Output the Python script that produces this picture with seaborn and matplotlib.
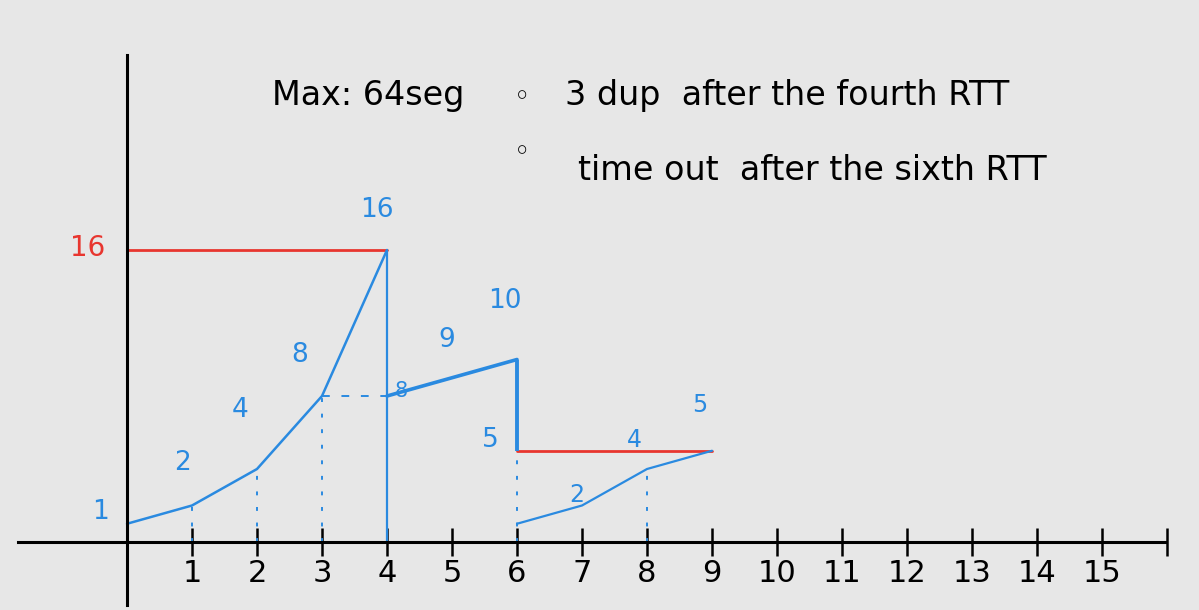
import numpy as np
import pandas as pd
import seaborn as sns
import matplotlib.pyplot as plt

# TCP congestion window per RTT
rtt_slow_start = [0, 1, 2, 3, 4]
cwnd_slow_start = [1, 2, 4, 8, 16]

rtt_avoid = [4, 5, 6]
cwnd_avoid = [8, 9, 10]

rtt_restart = [6, 7, 8, 9]
cwnd_restart = [1, 2, 4, 5]

ssthresh_x1 = [0, 4]
ssthresh_y1 = [16, 16]
ssthresh_x2 = [6, 9]
ssthresh_y2 = [5, 5]

# drops: 3 dup ack at RTT 4, timeout at RTT 6
drop_x = [4, 6]
drop_low = [0, 5]
drop_high = [16, 10]

guide_x = [1, 2, 3, 6, 8]
guide_top = [2, 4, 8, 5, 4]

rtt_ticks = list(range(1, 17))
rtt_labels = [str(i) for i in range(1, 16)] + [""]

BLUE = "#2a8ae0"
RED = "#e8362f"
BG = "#e7e7e7"

sns.set_style("white", rc={"axes.facecolor": BG, "figure.facecolor": BG,
                           "text.color": "black", "xtick.color": "black"})
plt.rcParams['font.family'] = ['DejaVu Sans']

fig = plt.figure(figsize=(11.99, 6.10), dpi=100)
ax = fig.add_axes([0, 0, 1, 1])

# pixel mapping: x=0 at 127px, 65 px per RTT; y=0 at 542px, 18.25 px per segment
ax.set_xlim(-127 / 65, 1072 / 65)
ax.set_ylim(-(610 - 542) / 18.25, 542 / 18.25)

# ssthresh lines
sns.lineplot(x=ssthresh_x1, y=ssthresh_y1, color=RED, linewidth=2.0, ax=ax)
sns.lineplot(x=ssthresh_x2, y=ssthresh_y2, color=RED, linewidth=2.0, ax=ax)

# cwnd curves
sns.lineplot(x=rtt_slow_start, y=cwnd_slow_start, color=BLUE, linewidth=1.8,
             estimator=None, sort=False, ax=ax)
sns.lineplot(x=rtt_avoid, y=cwnd_avoid, color=BLUE, linewidth=2.6,
             estimator=None, sort=False, ax=ax)
sns.lineplot(x=rtt_restart, y=cwnd_restart, color=BLUE, linewidth=1.6,
             estimator=None, sort=False, ax=ax)

ax.vlines(drop_x[0], drop_low[0], drop_high[0], color=BLUE, linewidth=1.6)
ax.vlines(drop_x[1], drop_low[1], drop_high[1], color=BLUE, linewidth=2.8)

# dotted guides
ax.vlines(guide_x, 0, guide_top, color=BLUE, linewidth=1.4, linestyles=(0, (2, 6)))
ax.hlines(cwnd_slow_start[3], rtt_slow_start[3], rtt_slow_start[4], color=BLUE,
          linewidth=1.4, linestyles=(0, (4, 6)))

# value labels
def lab(x, y, s, dx, dy, color=BLUE, size=19):
    ax.annotate(s, (x, y), xytext=(dx, dy), textcoords="offset pixels",
                ha="center", va="center", color=color, fontsize=size)

ss_offsets = [(-27, 12), (-10, 42), (-17, 59), (-22, 41), (-10, 40)]
for x, y, (dx, dy) in zip(rtt_slow_start, cwnd_slow_start, ss_offsets):
    lab(x, y, str(y), dx, dy)

ca_offsets = [(14, 5), (-5, 38), (-12, 59)]
for x, y, (dx, dy) in zip(rtt_avoid, cwnd_avoid, ca_offsets):
    lab(x, y, str(y), dx, dy, size=15 if y == 8 else 19)

lab(rtt_restart[0], ssthresh_y2[0], "5", -27, 11)
rs_offsets = [(-5, 10), (-13, 29), (-12, 46)]
for x, y, (dx, dy) in zip(rtt_restart[1:], cwnd_restart[1:], rs_offsets):
    lab(x, y, str(y), dx, dy, size=17)

lab(ssthresh_x1[0], ssthresh_y1[0], "16", -39, 2, color=RED, size=20)

# axes drawn as crossing lines
for side in ["top", "right"]:
    ax.spines[side].set_visible(False)
ax.spines["left"].set_position(("data", 0))
ax.spines["bottom"].set_position(("data", 0))
ax.spines["left"].set_bounds(-3.45, 26.7)
ax.spines["bottom"].set_bounds(-1.68, 15.97)
for side in ["left", "bottom"]:
    ax.spines[side].set_color("black")
    ax.spines[side].set_linewidth(2.2)

ax.set_xticks(rtt_ticks)
ax.set_xticklabels(rtt_labels)
ax.set_yticks([])
ax.tick_params(axis="x", bottom=True, direction="inout", length=20, width=1.8,
               color="black", labelcolor="black", labelsize=22, pad=2)

# notes
fig.text(272 / 1199, 1 - 105 / 610, "Max: 64seg", fontsize=24, va="baseline")
fig.text(522 / 1199, 1 - 105 / 610, "◦", fontsize=20, va="baseline", ha="center")
fig.text(565 / 1199, 1 - 105 / 610, "3 dup  after the fourth RTT", fontsize=24, va="baseline")
fig.text(522 / 1199, 1 - 160 / 610, "◦", fontsize=20, va="baseline", ha="center")
fig.text(578 / 1199, 1 - 180 / 610, "time out  after the sixth RTT", fontsize=24, va="baseline")

fig.savefig("out.png", dpi=100, facecolor=BG)
